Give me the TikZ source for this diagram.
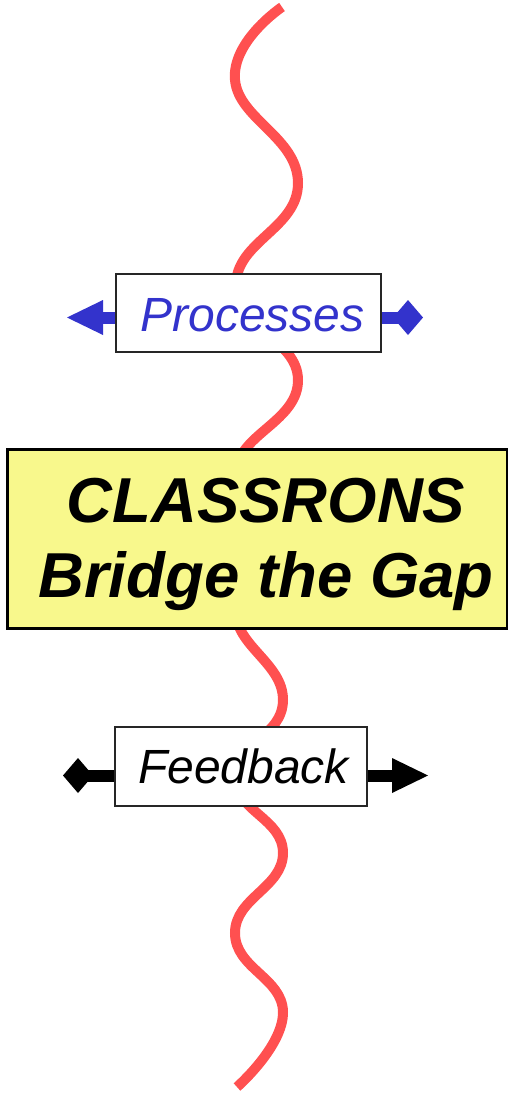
\documentclass[tikz,border=0pt]{standalone}
\usepackage{fontspec}
\setmainfont{Liberation Sans}
\usetikzlibrary{arrows.meta,positioning}
\definecolor{wavered}{RGB}{255,80,80}
\definecolor{procblue}{RGB}{51,51,204}
\definecolor{gapyellow}{RGB}{248,248,140}
\begin{document}
\begin{tikzpicture}[
x=1pt,y=-1pt,
wave/.style={
	draw=wavered,
	line width=10pt
},
labelbox/.style={
	draw=black!85,
	fill=white,
	line width=1.5pt,
	inner sep=0pt,
	font=\fontsize{48}{56}\selectfont\itshape
},
gapbox/.style={
	draw=black,
	fill=gapyellow,
	line width=3pt,
	inner sep=0pt
},
gaptext/.style={
	inner sep=0pt,
	align=center,
	font=\fontsize{63.5}{75}\selectfont\bfseries\itshape
},
bar/.style={
	line width=12pt
},
tri/.style={-{Triangle[length=36pt,width=35pt,line width=0pt]}},
dia/.style={-{Diamond[length=30pt,width=35pt,line width=0pt]}}
]
\useasboundingbox (0,0) rectangle (508,1093);

% the gap
\draw[wave] plot[smooth,tension=0.8] coordinates {
	(282,7) (235,80) (298,183) (236,285) (298,380) (237,470)
	(290,540) (236,610) (283,700) (235,777) (283,853) (235,933)
	(283,1012) (237,1087)};

\coordinate (procL) at (67,317.5);
\coordinate (procR) at (423,317.5);
\coordinate (fbL) at (63,775.5);
\coordinate (fbR) at (428,775.5);

\node[labelbox,text=procblue,text height=38pt,minimum width=265pt,minimum height=78pt] (proc) at (248.5,313) {\hspace*{8pt}Processes};
\node[labelbox,minimum width=252pt,minimum height=79pt] (fb) at (241,766.5) {\hspace*{5pt}Feedback};
\node[gapbox,minimum width=500pt,minimum height=179pt] (gap) at (257,538.5) {};
\node[gaptext] (title) at ([xshift=9pt,yshift=-5.5pt]gap.center) {CLASSRONS\\Bridge the Gap};

\draw[bar,procblue,tri] (procL -| proc.west) -- (procL);
\draw[bar,procblue,dia] (procR -| proc.east) -- (procR);
\draw[bar,black,dia] (fbL -| fb.west) -- (fbL);
\draw[bar,black,tri] (fbR -| fb.east) -- (fbR);
\end{tikzpicture}
\end{document}
